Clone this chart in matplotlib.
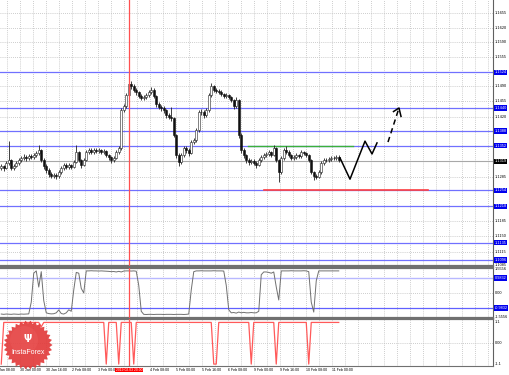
import numpy as np
import matplotlib
matplotlib.use('Agg')
import matplotlib.pyplot as plt
from matplotlib.patches import Polygon, Circle
import matplotlib.transforms as mtransforms

# ---------------- data (prices in pips above 1.0000) ----------------
first_open = 1305
closes = [1309,1304,1316,1322,1304,1309,1316,1322,1327,1329,1327,1331,1329,1334,1338,1345,1322,1309,1300,1291,
          1286,1288,1286,1295,1304,1311,1307,1311,1307,1318,1340,1322,1311,1322,1340,1345,1340,1345,1343,1345,
          1340,1343,1334,1329,1322,1327,1340,1349,1436,1444,1469,1494,1490,1481,1476,1467,1463,1465,1469,1476,
          1481,1467,1449,1442,1440,1435,1424,1420,1417,1379,1334,1318,1334,1349,1345,1338,1363,1367,1390,1431,
          1431,1424,1435,1469,1490,1481,1478,1476,1472,1467,1469,1465,1458,1444,1458,1379,1345,1334,1322,1318,
          1320,1316,1311,1322,1329,1334,1336,1340,1334,1349,1322,1295,1327,1345,1340,1334,1327,1329,1334,1331,
          1340,1338,1334,1322,1295,1286,1284,1295,1316,1322,1322,1325,1327,1327,1329,1322]
highs = [1314,1312,1320,1365,1325,1314,1320,1327,1332,1335,1334,1336,1335,1339,1343,1356,1348,1326,1313,1305,
         1296,1293,1292,1299,1309,1315,1315,1316,1314,1323,1356,1343,1325,1327,1345,1350,1349,1350,1349,1350,
         1348,1347,1346,1337,1332,1331,1344,1355,1440,1450,1475,1530,1500,1494,1485,1479,1471,1470,1474,1481,
         1487,1485,1470,1453,1447,1444,1438,1428,1443,1420,1382,1338,1339,1355,1353,1350,1368,1373,1395,1436,
         1438,1435,1440,1474,1497,1493,1485,1482,1480,1475,1474,1472,1468,1461,1465,1461,1383,1349,1337,1326,
         1325,1324,1319,1326,1333,1339,1341,1344,1343,1356,1352,1325,1331,1349,1354,1344,1337,1334,1338,1337,
         1344,1343,1341,1337,1325,1298,1291,1299,1320,1327,1328,1330,1331,1332,1334,1333]
lows = [1300,1298,1301,1312,1299,1300,1306,1312,1318,1322,1321,1323,1324,1325,1330,1334,1318,1303,1294,1285,
        1281,1282,1280,1282,1291,1300,1302,1303,1302,1304,1315,1318,1305,1308,1319,1336,1335,1336,1338,1339,
        1335,1336,1329,1323,1316,1318,1324,1336,1346,1430,1440,1465,1484,1476,1470,1462,1457,1459,1461,1465,
        1472,1462,1443,1437,1434,1429,1418,1414,1411,1374,1326,1308,1314,1330,1339,1332,1335,1358,1362,1386,
        1425,1418,1420,1432,1465,1476,1473,1471,1468,1462,1463,1460,1453,1438,1440,1372,1338,1327,1316,1312,
        1313,1310,1305,1308,1318,1325,1330,1332,1329,1331,1317,1273,1290,1323,1336,1329,1322,1323,1325,1326,
        1328,1333,1329,1317,1290,1277,1279,1281,1291,1312,1317,1318,1320,1322,1323,1318]

osc = ([-1.38,-1.40,-1.38,-1.39,-1.40,-1.38,-1.39,-1.40,-1.38,-1.39,-1.38,-1.37]
       + [-0.6, 1.3] + [1.45, 0.39, 1.4, -0.5]
       + [-1.30,-1.35,-1.37,-1.36,-1.30,-1.11,-1.35,-1.38,-1.30,-1.10,-1.20]
       + [0.2, 1.35, 1.3, 0.3, 0.0, 1.45]
       + [1.45,1.46,1.45,1.45,1.44,1.45,1.44,1.43,1.42,1.40,1.41,1.38,1.42,1.38,1.44,1.45,1.45,1.44,1.45,1.43]
       + [0.5, -1.2]
       + [-1.40,-1.41,-1.40,-1.40,-1.41,-1.40,-1.40,-1.40,-1.41,-1.40,-1.40,-1.40,-1.41,-1.40,-1.40,-1.40,-1.41,-1.40,-1.38]
       + [0.2, 1.40]
       + [1.45,1.45,1.46,1.45,1.45,1.45,1.45,1.46,1.45,1.45,1.45,1.44]
       + [0.5, -1.1]
       + [-1.30,-1.28,-1.32,-1.25,-1.30,-1.27,-1.30,-1.30,-1.28,-1.30,-1.30,-1.20]
       + [1.2, 1.38] + [1.38,1.35,1.30,1.38] + [0.4, -0.46] + [1.45]
       + [1.45,1.45,1.45,1.46,1.45,1.45,1.45,1.45,1.46,1.45]
       + [1.40, -0.6, -1.25, 0.8, 1.45]
       + [1.45]*8)

sig_low_bars = [0, 42, 47, 53, 85, 86, 100, 110, 123]
sig_mid = {16: 0.85}

# horizontal levels
blue_levels = [1.1521, 1.1440, 1.1388, 1.1355, 1.1254, 1.1218, 1.1135, 1.1096]
blue_labels = ['1.1524', '1.1440', '1.1388', '1.1352', '1.1254', '1.1218', '1.1135', '1.1096']
current_price = 1.1319
green_level = 1.1355
green_span = [98.7, 140.7]
red_level = 1.1254
red_span = [105.0, 170.7]
red_vline = 51.1

price_ticks = [1.1655, 1.1620, 1.1590, 1.1555, 1.1490, 1.1455, 1.1420, 1.1285, 1.1185, 1.1150, 1.1115, 1.1085]
price_grid = [1.1655, 1.1620, 1.1590, 1.1555, 1.1521, 1.1490, 1.1455, 1.1420, 1.1388, 1.1354, 1.1320,
              1.1285, 1.1254, 1.1218, 1.1185, 1.1150, 1.1115, 1.1085]

# forecast path (bar index, price)
fc_x = [135.5, 139.5, 145.5, 148.3, 150.3]
fc_y = [1.1327, 1.1279, 1.1365, 1.1336, 1.1361]
fcd_x = [154.7, 159.1]
fcd_y = [1.1363, 1.1440]
arrow_x = [156.9, 159.1, 159.9]
arrow_y = [1.1432, 1.1440, 1.1421]

time_pos = [-2.9, 7.5, 17.9, 28.3, 38.7, 59.5, 69.9, 80.3, 90.7, 101.1, 111.5, 121.9, 132.3]
time_labels = ['29 Jan 08:00', '30 Jan 00:00', '30 Jan 16:00', '2 Feb 08:00', '3 Feb 00:00',
               '4 Feb 08:00', '5 Feb 00:00', '5 Feb 16:00', '6 Feb 08:00', '9 Feb 00:00',
               '9 Feb 16:00', '10 Feb 08:00', '11 Feb 00:00']
red_box_label = '2019.02.03 20:00'

# ---------------- figure ----------------
W, H = 510, 375
plt.rcParams['font.family'] = ['Liberation Sans', 'DejaVu Sans']
fig = plt.figure(figsize=(W/100, H/100), dpi=100)
FS = 2.8
FST = 2.6

def pos(y0, y1):
    return [0, 1 - y1/H, 493/W, (y1 - y0)/H]

ax = fig.add_axes(pos(0, 266))
ax2 = fig.add_axes(pos(268, 318), sharex=ax)
ax3 = fig.add_axes(pos(319, 366), sharex=ax)

xmin, xmax = -0.5, 196.7
grid_x = np.arange(-2.9, xmax + 1, 5.2)
for a in (ax, ax2, ax3):
    a.set_xticks(grid_x)
    a.set_xlim(xmin, xmax)
    a.tick_params(length=0, labelbottom=False, labelleft=False)
    a.grid(True, linestyle=(0, (1, 1.5)), color='#bdbdbd', lw=0.6)
    a.set_axisbelow(True)
    a.spines['left'].set_visible(False)
    a.spines['right'].set_color('#606060')
    a.spines['right'].set_linewidth(0.8)
    a.spines['top'].set_color('#707070')
    a.spines['top'].set_linewidth(1.6)
    a.spines['bottom'].set_color('#707070')
    a.spines['bottom'].set_linewidth(1.6)
ax.spines['top'].set_visible(False)
ax3.spines['bottom'].set_linewidth(0.8)

# ---- main candles ----
C = 1.0 + np.array(closes)/1e4
O = 1.0 + np.r_[first_open, closes[:-1]]/1e4
Hh = 1.0 + np.array(highs)/1e4
Ll = 1.0 + np.array(lows)/1e4
idx = np.arange(len(C))
ax.set_yticks(price_grid)
ax.set_ylim(1.10825, 1.16844)

for lv in blue_levels:
    ax.axhline(lv, color='#7070ff', lw=0.9, zorder=1)
ax.axhline(current_price, color='#a8a8a8', lw=0.8, zorder=1)

ax.vlines(idx, Ll, Hh, color='#202020', lw=0.6, zorder=3)
bull = C >= O
ax.bar(idx[bull], (C - O)[bull], bottom=O[bull], width=0.65, color='white',
       edgecolor='#202020', lw=0.4, zorder=4)
ax.bar(idx[~bull], (O - C)[~bull], bottom=C[~bull], width=0.65, color='#101010',
       edgecolor='#101010', lw=0.4, zorder=4)

ax.plot(green_span, [green_level]*2, color='#3cb03c', lw=1.0, zorder=2)
ax.plot(red_span, [red_level]*2, color='#ff4040', lw=1.2, zorder=2)

ax.plot(fc_x, fc_y, color='black', lw=1.1, zorder=5)
ax.plot(fcd_x, fcd_y, color='black', lw=1.1, ls=(0, (3.5, 2.5)), zorder=5)
ax.plot(arrow_x, arrow_y, color='black', lw=1.1, zorder=5)

# price labels
tr = mtransforms.blended_transform_factory(ax.transAxes, ax.transData)
for p in price_ticks:
    ax.text(1.003, p, f'{p:.4f}', transform=tr, fontsize=FS, va='center', ha='left', clip_on=False)
for p, lab in zip(blue_levels, blue_labels):
    ax.text(1.003, p, lab, transform=tr, fontsize=FS, va='center', ha='left', color='white', clip_on=False,
            bbox=dict(boxstyle='square,pad=0.15', fc='#0000ee', ec='none'))
ax.text(1.003, current_price, f'{current_price:.4f}', transform=tr, fontsize=FS, va='center', ha='left',
        color='white', clip_on=False, bbox=dict(boxstyle='square,pad=0.15', fc='black', ec='none'))

# ---- oscillator panel ----
ax2.set_yticks([0])
ax2.set_ylim(-1.64, 1.64)
ax2.axhline(0.9832, color='#b8b8ff', lw=1.0, zorder=1)
ax2.axhline(-0.9832, color='#6060ff', lw=0.9, zorder=1)
ax2.plot(idx, osc, color='#707070', lw=0.7, zorder=3)
tr2 = mtransforms.blended_transform_factory(ax2.transAxes, ax2.transData)
for v, lab in [(1.5556, '1.5556'), (0.0, '0.00'), (-1.5556, '-1.5556')]:
    ax2.text(1.003, v, lab, transform=tr2, fontsize=FS, va='center', ha='left', clip_on=False)
for v, lab in [(0.9832, '0.9832'), (-0.9832, '-0.9832')]:
    ax2.text(1.003, v, lab, transform=tr2, fontsize=FS, va='center', ha='left', color='white', clip_on=False,
             bbox=dict(boxstyle='square,pad=0.15', fc='#0000ee', ec='none'))

# ---- signal panel ----
sig = np.full(len(C), 1.08)
sig[sig_low_bars] = -1.1
for k, v in sig_mid.items():
    sig[k] = v
ax3.set_yticks([0])
ax3.set_ylim(-1.2, 1.26)
ax3.plot(idx, sig, color='#ff5a5a', lw=0.9, zorder=3)
tr3 = mtransforms.blended_transform_factory(ax3.transAxes, ax3.transData)
for v, lab in [(1.1, '1.1'), (0.0, '0.00'), (-1.1, '-1.1')]:
    ax3.text(1.003, v, lab, transform=tr3, fontsize=FS, va='center', ha='left', clip_on=False)

# red vertical line through all panels
for a in (ax, ax2, ax3):
    a.axvline(red_vline, color='#ff5050', lw=0.9, zorder=6)

# time labels
trt = mtransforms.blended_transform_factory(ax3.transData, ax3.transAxes)
for p, lab in zip(time_pos, time_labels):
    ax3.text(p, -0.04, lab, transform=trt, fontsize=FST, va='top', ha='left', clip_on=False)
ax3.text(red_vline, -0.04, red_box_label, transform=trt, fontsize=2.4, va='top', ha='center', color='white',
         clip_on=False, bbox=dict(boxstyle='square,pad=0.1', fc='#ff0000', ec='none'))

# ---- InstaForex logo ----
ov = fig.add_axes([0, 0, 1, 1], facecolor='none')
ov.set_xlim(0, W)
ov.set_ylim(H, 0)
ov.axis('off')
cx, cy, r_out, r_in, n = 28, 345, 24.5, 21.5, 30
ang = np.linspace(0, 2*np.pi, 2*n, endpoint=False)
rad = np.where(np.arange(2*n) % 2 == 0, r_out, r_in)
ov.add_patch(Polygon(np.c_[cx + rad*np.cos(ang), cy + rad*np.sin(ang)], closed=True,
                     fc='#e23b3b', ec='none', alpha=0.92, zorder=10))
ov.add_patch(Circle((cx - 4, cy - 5), 14, fc='#ee6060', ec='none', alpha=0.35, zorder=11))
ov.text(cx, cy - 6, '\u03a8', color='white', fontsize=7, ha='center', va='center', zorder=12,
        weight='bold', family='DejaVu Sans')
ov.text(cx, cy + 7, 'InstaForex', color='white', fontsize=5, ha='center', va='center', zorder=12)

fig.savefig('out.png', dpi=100)
